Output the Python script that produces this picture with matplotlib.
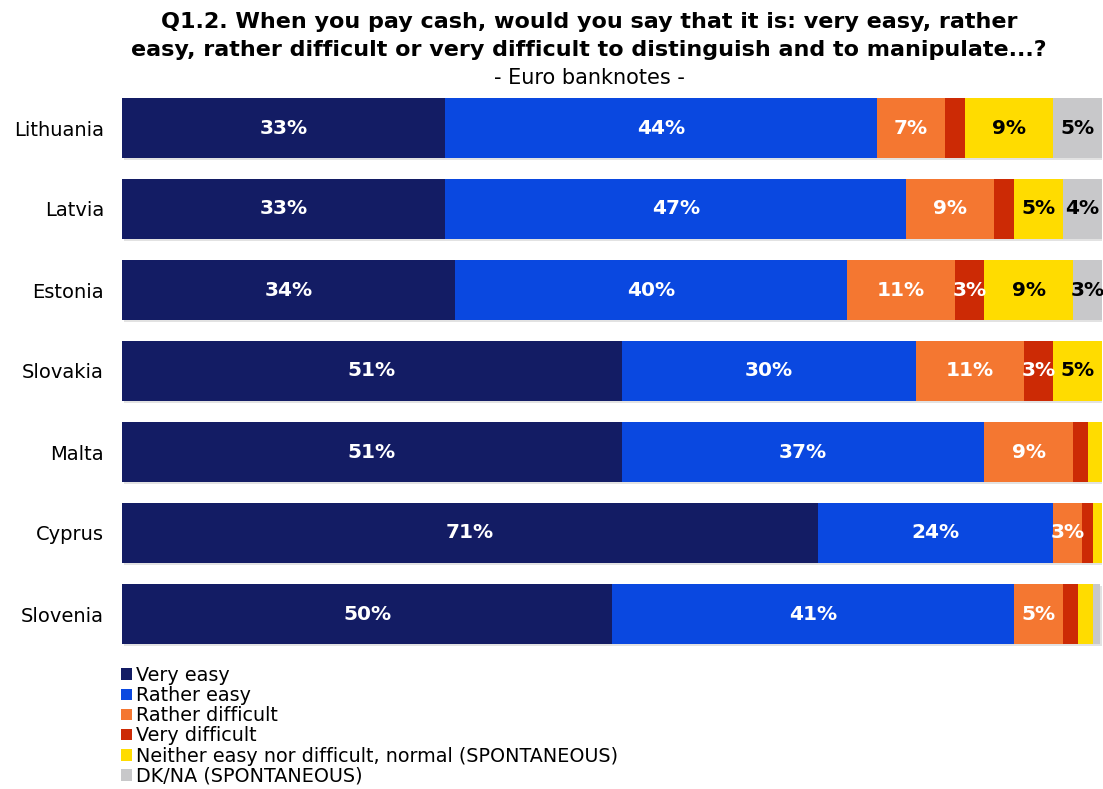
import matplotlib.pyplot as plt
from matplotlib.patches import Patch

countries = ["Lithuania", "Latvia", "Estonia", "Slovakia", "Malta", "Cyprus", "Slovenia"]
categories = [
    "Very easy",
    "Rather easy",
    "Rather difficult",
    "Very difficult",
    "Neither easy nor difficult, normal (SPONTANEOUS)",
    "DK/NA (SPONTANEOUS)",
]
very_easy = [33, 33, 34, 51, 51, 71, 50]
rather_easy = [44, 47, 40, 30, 37, 24, 41]
rather_difficult = [7, 9, 11, 11, 9, 3, 5]
very_difficult = [2, 2, 3, 3, 1.6, 1.1, 1.5]
neither = [9, 5, 9, 5, 1.8, 1.2, 1.6]
dk_na = [5, 4, 3, 0.6, 0.3, 0, 0.7]

series = [very_easy, rather_easy, rather_difficult, very_difficult, neither, dk_na]
colors = ["#131c64", "#0a48e0", "#f47731", "#cc2a05", "#ffdc00", "#c8c8ca"]
text_colors = ["white", "white", "white", "white", "black", "black"]

fig = plt.figure(figsize=(11.03, 7.89), dpi=100)
ax = fig.add_axes([122 / 1103, 1 - 654.5 / 789, 980 / 1103, 567 / 789])

ypos = list(range(len(countries)))
bar_h = 0.74

# soft drop shadow under each bar
totals = [sum(s[i] for s in series) for i in ypos]
ax.barh([y + 0.03 for y in ypos], totals, height=bar_h, left=0.2,
        color="#e2e2e2", zorder=1)

left = [0.0] * len(countries)
for vals, col, tcol in zip(series, colors, text_colors):
    ax.barh(ypos, vals, height=bar_h, left=left, color=col, zorder=2)
    for i, v in enumerate(vals):
        if v >= 3:
            ax.text(left[i] + v / 2, ypos[i], f"{v:.0f}%", ha="center", va="center",
                    color=tcol, fontsize=14.5, fontweight="bold", zorder=3)
    left = [l + v for l, v in zip(left, vals)]

ax.set_xlim(0, 100)
ax.set_ylim(len(countries) - 0.5, -0.5)
ax.set_yticks(ypos)
ax.set_yticklabels(countries, fontsize=14)
ax.tick_params(axis="y", length=0, pad=13)
ax.set_xticks([])
for s in ax.spines.values():
    s.set_visible(False)

fig.text(0.534, 1 - 22 / 789, "Q1.2. When you pay cash, would you say that it is: very easy, rather",
         ha="center", va="center", fontsize=16, fontweight="bold")
fig.text(0.534, 1 - 50 / 789, "easy, rather difficult or very difficult to distinguish and to manipulate...?",
         ha="center", va="center", fontsize=16, fontweight="bold")
fig.text(0.534, 1 - 78 / 789, "- Euro banknotes -", ha="center", va="center", fontsize=15)

handles = [Patch(facecolor=c, edgecolor="none") for c in colors]
fig.legend(handles, categories, loc="upper left", bbox_to_anchor=(121 / 1103, 1 - 666 / 789),
           frameon=False, fontsize=13.8, handlelength=0.55, handleheight=0.55,
           handletextpad=0.25, labelspacing=0.06, borderpad=0, borderaxespad=0)

plt.savefig("out.png", dpi=100)
plt.close()
